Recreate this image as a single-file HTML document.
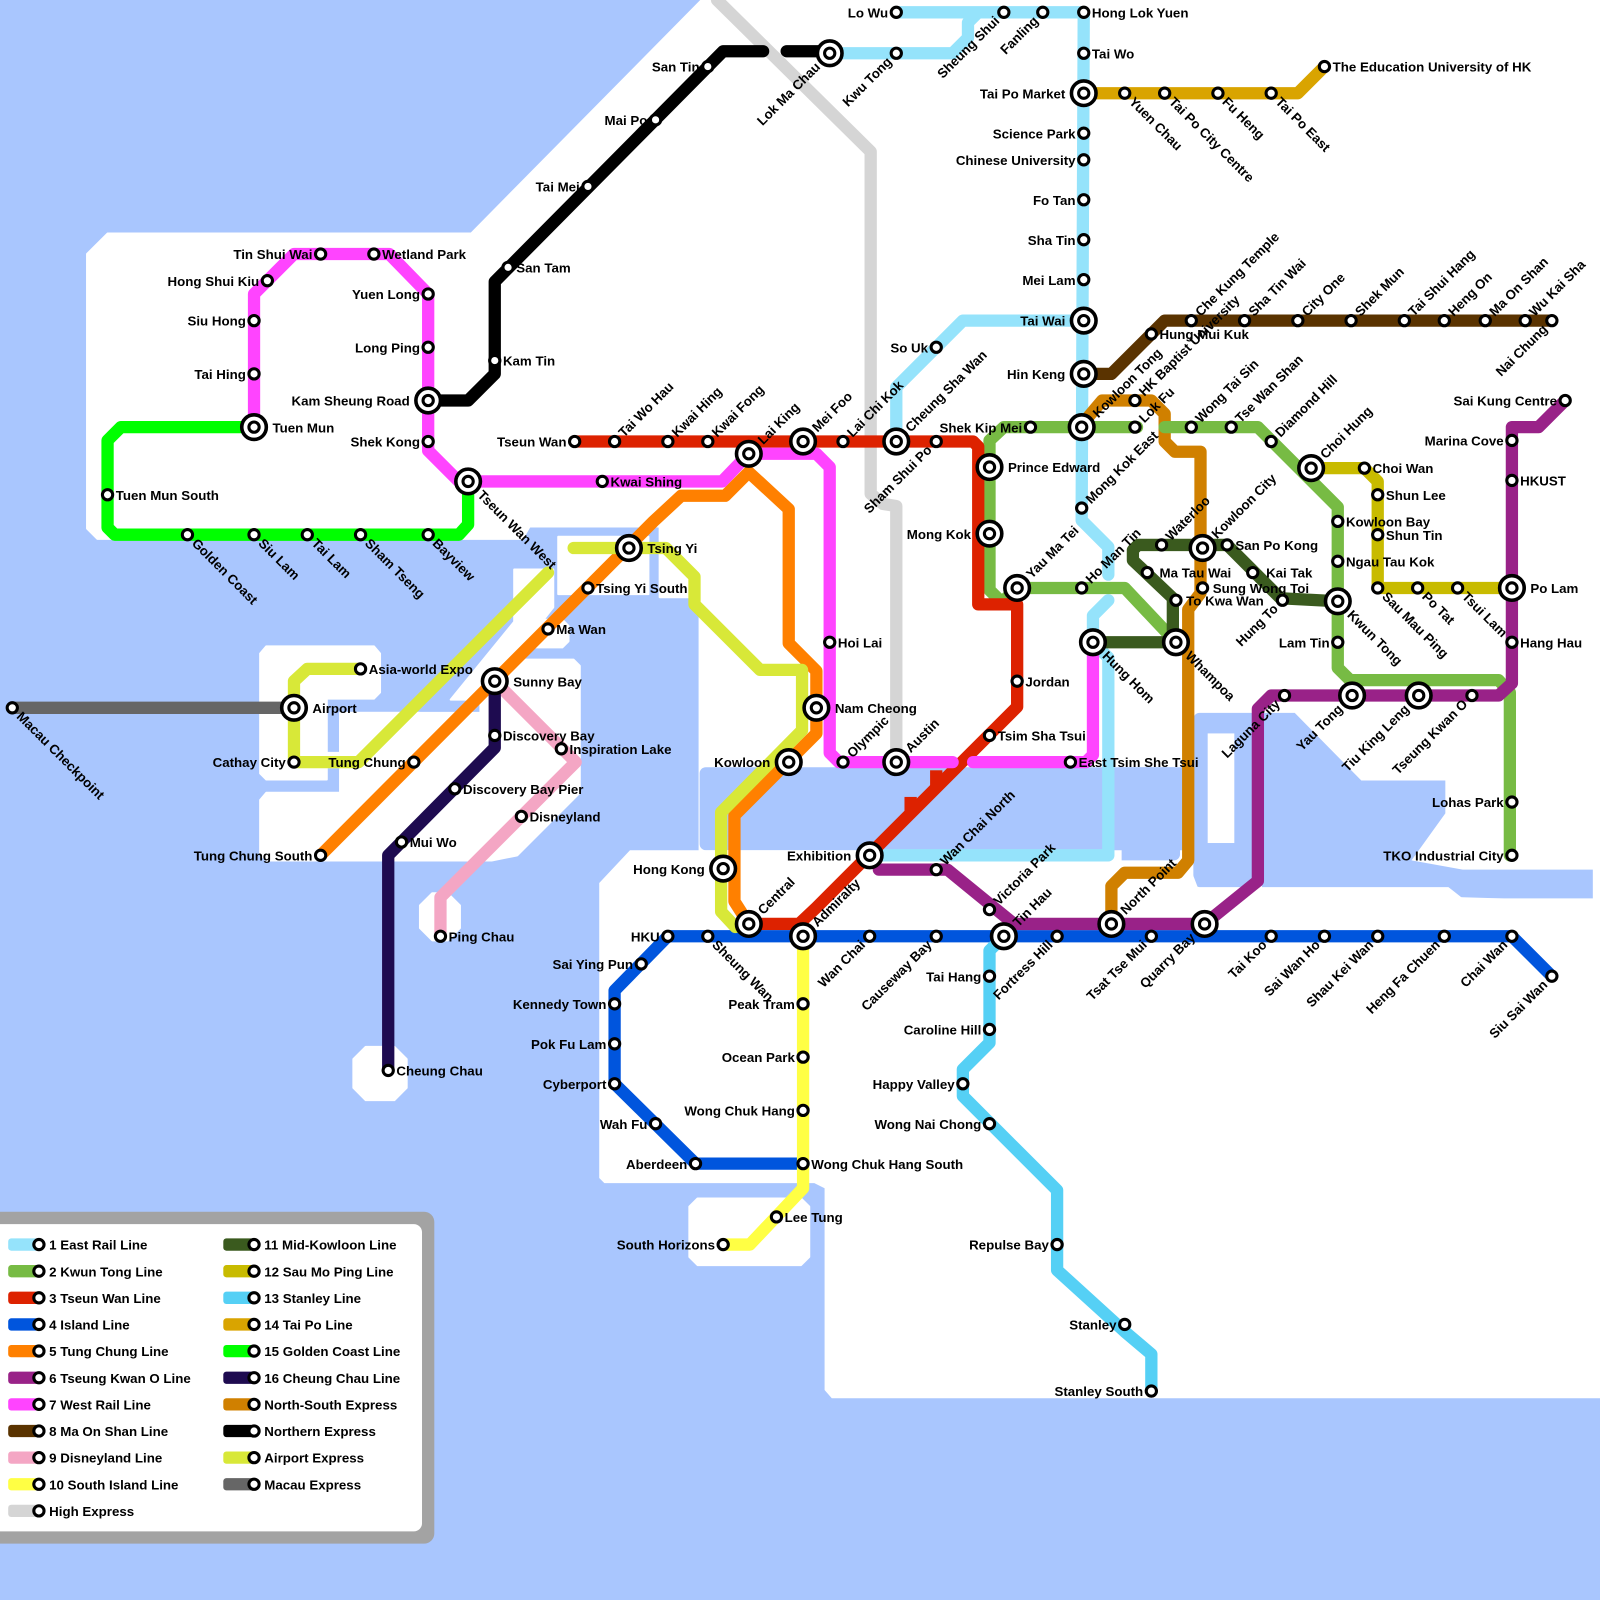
<!DOCTYPE html>
<html><head><meta charset="utf-8"><style>
html,body{margin:0;padding:0;background:#fff}
svg{display:block}
text{font-family:"Liberation Sans",Arial,sans-serif;font-weight:bold;font-size:13px;fill:#000}
.l{text-anchor:end}
.ln{fill:none;stroke-width:12;stroke-linejoin:round;stroke-linecap:round}
</style></head><body>
<svg width="1600" height="1600" viewBox="0 0 1562 1562" xmlns="http://www.w3.org/2000/svg">
<defs>
<g id="s"><circle r="5" fill="#fff" stroke="#000" stroke-width="3"/></g>
<g id="i"><circle r="12" fill="#fff" stroke="#000" stroke-width="3.5"/><circle r="5" fill="#fff" stroke="#000" stroke-width="3"/></g>
</defs>
<rect width="1562" height="1562" fill="#a9c6fe"/>
<!-- land -->
<g fill="#fff" stroke="#fff" stroke-width="2" stroke-linejoin="round">
<polygon points="85,248 105,228 460,228 685,0 1562,0 1562,880 683,880 683,583 644,583 644,514 517,514 510,526 95,526 85,516"/>
<polygon points="545,524 633,524 633,580 545,580"/>
<polygon points="503,556 540,556 540,593 503,593"/>
<polygon points="515,611 521,605 549,605 555,611 555,626 549,632 521,632 515,626"/>
<polygon points="254,638 260,631 365,631 371,638 371,676 365,682 319,682 319,749 410,749 410,696 332,696 332,735 319,735 319,761 260,761 254,755"/>
<polygon points="254,781 260,774 332,774 332,696 469,696 469,650 475,644 560,644 566,650 566,774 505,835 480,840 260,840 254,834"/>
<polygon points="440,683 502,607 502,556 540,556 540,593 469,683"/>
<polygon points="410,884 422,872 437,872 449,884 449,906 437,918 422,918 410,906"/>
<polygon points="345,1034 357,1022 385,1022 397,1034 397,1062 385,1074 357,1074 345,1062"/>
<polygon points="673,1178 681,1170 782,1170 790,1178 790,1227 782,1235 681,1235 673,1227"/>
</g>
<g fill="#a9c6fe">
<rect x="683" y="749" width="546" height="81" rx="6"/>
<rect x="1088" y="749" width="64" height="91" rx="6"/>
<rect x="1165" y="696" width="64" height="170" rx="6"/>
<polygon points="1232,696 1264,696 1329,762 1411,762 1411,794 1378,840 1428,849 1555,849 1555,877 1428,877 1414,866 1232,866"/>
</g>
<g fill="#fff">
<rect x="1179" y="716" width="26" height="107"/>
<polygon points="585,862 615,830 1095,830 1095,842 1160,842 1170,868 1232,870 1562,880 1562,1365 812,1365 805,1357 805,1160 795,1155 590,1155 585,1150"/>
</g>
<!-- lines -->
<path class="ln" stroke="#d5d5d5" d="M700,0 L850,148 L850,482 L862,492 L875,494 L875,744"/>
<path class="ln" stroke="#666666" d="M12,691 L287,691"/>
<path class="ln" stroke="#000" d="M418,391 L457,391 L483,365 L483,275 L706,50 L745,50 M768,50 L810,50"/>
<path class="ln" stroke="#95e3fb" d="M875,12 L1058,12 M810,52 L930,52 L945,37 L945,22 L955,12 M1058,12 L1056,496 L1056,508 L1082,534 L1082,561 M1082,586 L1067,601 L1067,627 L1082,642 L1082,835 L849,835 M1056,313 L940,313 L875,378 L875,431"/>
<path class="ln" stroke="#d08000" d="M1054,417 L1076,391 L1124,391 L1137,404 L1137,431 L1147,441 L1172,441 L1172,579 L1160,595 L1160,840 L1150,852 L1098,852 L1085,865 L1085,902"/>
<path class="ln" stroke="#77bb44" d="M1148,627 L1098,574 L993,574 L978,588 L966,576 L966,430 L980,417 L1110,417 M1137,417 L1228,417 L1306,495 L1306,652 L1318,664 L1463,664 L1474,676 L1474,835"/>
<path class="ln" stroke="#dd2200" d="M561,431 L950,431 L955,436 L955,590 L993,590 L993,690 L797,886 L780,902 L731,902"/>
<rect x="883" y="778" width="12" height="17" fill="#dd2200"/><rect x="908" y="752" width="12" height="18" fill="#dd2200"/>
<path class="ln" stroke="#0055dd" d="M784,1136 L679,1136 L600,1058 L600,967 L652,914 L1476,914 L1515,953"/>
<path class="ln" stroke="#ff8000" d="M313,835 L638,509 L665,484 L708,484 L731,461 L770,497 L770,628 L797,655 L797,716 L717,796 L717,880 L731,902"/>
<path class="ln" stroke="#992288" d="M1528,391 L1502,417 L1476,417 L1476,667 L1463,679 L1241,679 L1228,692 L1228,860 L1176,902 L990,902 L925,849 L858,849"/>
<path class="ln" stroke="#ff44ff" d="M248,417 L248,287 L287,248 L380,248 L418,287 L418,440 L448,470 L705,470 L731,443 L797,443 L810,456 L810,735 L819,744 L930,744 M950,744 L1060,744 L1067,737 L1067,627"/>
<path class="ln" stroke="#5a3300" d="M1058,365 L1085,365 L1137,313 L1515,313"/>
<path class="ln" stroke="#f4a6c4" d="M483,665 L562,744 L430,876 L430,914"/>
<path class="ln" stroke="#ffff44" d="M784,914 L784,1160 L732,1215 L706,1215"/>
<path class="ln" stroke="#3a5a1e" d="M1067,627 L1145,627 L1145,584 L1106,547 L1106,537 L1111,532 L1198,532 L1250,584 L1306,587"/>
<path class="ln" stroke="#c8bb00" d="M1280,457 L1332,457 L1345,470 L1345,574 L1476,574"/>
<path class="ln" stroke="#55d0f5" d="M980,914 L966,928 L966,1018 L940,1044 L940,1070 L1032,1162 L1032,1240 L1098,1300 L1124,1322 L1124,1358"/>
<path class="ln" stroke="#d9a400" d="M1058,91 L1267,91 L1293,65"/>
<path class="ln" stroke="#00ff00" d="M248,417 L118,417 L105,430 L105,515 L112,522 L448,522 L457,512 L457,470"/>
<path class="ln" stroke="#1e0b50" d="M483,665 L483,730 L379,835 L379,1045"/>
<path class="ln" stroke="#d8e838" d="M352,653 L300,653 L287,665 L287,744 L350,744 L535,559 M560,535 L650,535 L678,563 L678,590 L742,654 L783,654 L783,713 L704,793 L704,890 L718,905"/>
<!-- stations -->
<g>
<use href="#s" x="875" y="12"/><use href="#s" x="980" y="12"/><use href="#s" x="1018" y="12"/><use href="#s" x="1058" y="12"/>
<use href="#s" x="875" y="52"/><use href="#s" x="1058" y="52"/>
<use href="#s" x="1058" y="130"/><use href="#s" x="1058" y="156"/><use href="#s" x="1058" y="195"/><use href="#s" x="1058" y="234"/><use href="#s" x="1058" y="273"/>
<use href="#s" x="1098" y="91"/><use href="#s" x="1137" y="91"/><use href="#s" x="1189" y="91"/><use href="#s" x="1241" y="91"/><use href="#s" x="1293" y="65"/>
<use href="#s" x="914" y="339"/><use href="#s" x="1006" y="417"/><use href="#s" x="1108" y="417"/><use href="#s" x="1108" y="391"/><use href="#s" x="1163" y="417"/><use href="#s" x="1202" y="417"/><use href="#s" x="1241" y="431"/>
<use href="#s" x="1124" y="326"/><use href="#s" x="1163" y="313"/><use href="#s" x="1215" y="313"/><use href="#s" x="1267" y="313"/><use href="#s" x="1319" y="313"/><use href="#s" x="1371" y="313"/><use href="#s" x="1410" y="313"/><use href="#s" x="1450" y="313"/><use href="#s" x="1489" y="313"/><use href="#s" x="1515" y="313"/>
<use href="#s" x="1528" y="391"/><use href="#s" x="1476" y="430"/><use href="#s" x="1476" y="469"/><use href="#s" x="1476" y="627"/><use href="#s" x="1476" y="783"/><use href="#s" x="1476" y="835"/>
<use href="#s" x="1332" y="457"/><use href="#s" x="1345" y="483"/><use href="#s" x="1345" y="522"/><use href="#s" x="1345" y="574"/><use href="#s" x="1384" y="574"/><use href="#s" x="1423" y="574"/>
<use href="#s" x="1306" y="509"/><use href="#s" x="1306" y="548"/><use href="#s" x="1306" y="627"/><use href="#s" x="1437" y="679"/><use href="#s" x="1254" y="679"/>
<use href="#s" x="1134" y="532"/><use href="#s" x="1198" y="532"/><use href="#s" x="1120" y="559"/><use href="#s" x="1223" y="559"/><use href="#s" x="1174" y="574"/><use href="#s" x="1148" y="586"/><use href="#s" x="1252" y="586"/>
<use href="#s" x="1056" y="496"/><use href="#s" x="1056" y="574"/><use href="#s" x="993" y="665"/><use href="#s" x="966" y="718"/><use href="#s" x="1045" y="744"/>
<use href="#s" x="561" y="431"/><use href="#s" x="600" y="431"/><use href="#s" x="652" y="431"/><use href="#s" x="691" y="431"/><use href="#s" x="823" y="431"/><use href="#s" x="914" y="431"/>
<use href="#s" x="810" y="627"/><use href="#s" x="823" y="744"/><use href="#s" x="588" y="470"/>
<use href="#s" x="313" y="248"/><use href="#s" x="365" y="248"/><use href="#s" x="261" y="274"/><use href="#s" x="248" y="313"/><use href="#s" x="248" y="365"/><use href="#s" x="418" y="287"/><use href="#s" x="418" y="339"/><use href="#s" x="418" y="431"/>
<use href="#s" x="691" y="65"/><use href="#s" x="640" y="117"/><use href="#s" x="574" y="182"/><use href="#s" x="496" y="261"/><use href="#s" x="483" y="352"/>
<use href="#s" x="105" y="483"/><use href="#s" x="183" y="522"/><use href="#s" x="248" y="522"/><use href="#s" x="300" y="522"/><use href="#s" x="352" y="522"/><use href="#s" x="418" y="522"/>
<use href="#s" x="574" y="574"/><use href="#s" x="535" y="614"/><use href="#s" x="352" y="653"/><use href="#s" x="287" y="744"/><use href="#s" x="404" y="744"/><use href="#s" x="313" y="835"/><use href="#s" x="12" y="691"/>
<use href="#s" x="483" y="718"/><use href="#s" x="548" y="731"/><use href="#s" x="444" y="770"/><use href="#s" x="509" y="797"/><use href="#s" x="392" y="822"/><use href="#s" x="430" y="914"/><use href="#s" x="379" y="1045"/>
<use href="#s" x="914" y="849"/><use href="#s" x="966" y="888"/>
<use href="#s" x="652" y="914"/><use href="#s" x="691" y="914"/><use href="#s" x="626" y="941"/><use href="#s" x="600" y="980"/><use href="#s" x="600" y="1019"/><use href="#s" x="600" y="1058"/><use href="#s" x="640" y="1097"/><use href="#s" x="679" y="1136"/><use href="#s" x="784" y="1136"/>
<use href="#s" x="784" y="980"/><use href="#s" x="784" y="1032"/><use href="#s" x="784" y="1084"/><use href="#s" x="758" y="1188"/><use href="#s" x="706" y="1215"/>
<use href="#s" x="849" y="914"/><use href="#s" x="914" y="914"/><use href="#s" x="1032" y="914"/><use href="#s" x="1124" y="914"/><use href="#s" x="1241" y="914"/><use href="#s" x="1293" y="914"/><use href="#s" x="1345" y="914"/><use href="#s" x="1410" y="914"/><use href="#s" x="1476" y="914"/><use href="#s" x="1515" y="953"/>
<use href="#s" x="966" y="953"/><use href="#s" x="966" y="1005"/><use href="#s" x="940" y="1058"/><use href="#s" x="966" y="1097"/><use href="#s" x="1032" y="1215"/><use href="#s" x="1098" y="1293"/><use href="#s" x="1124" y="1358"/>
<use href="#i" x="810" y="52"/><use href="#i" x="1058" y="91"/><use href="#i" x="1058" y="313"/><use href="#i" x="1058" y="365"/><use href="#i" x="1056" y="417"/><use href="#i" x="966" y="456"/><use href="#i" x="966" y="521"/><use href="#i" x="993" y="574"/><use href="#i" x="1067" y="627"/><use href="#i" x="1148" y="627"/><use href="#i" x="1174" y="535"/><use href="#i" x="1280" y="457"/><use href="#i" x="1306" y="587"/><use href="#i" x="1476" y="574"/><use href="#i" x="1320" y="679"/><use href="#i" x="1385" y="679"/><use href="#i" x="418" y="391"/><use href="#i" x="248" y="417"/><use href="#i" x="457" y="470"/><use href="#i" x="731" y="443"/><use href="#i" x="784" y="431"/><use href="#i" x="875" y="431"/><use href="#i" x="614" y="535"/><use href="#i" x="483" y="665"/><use href="#i" x="287" y="691"/><use href="#i" x="797" y="691"/><use href="#i" x="770" y="744"/><use href="#i" x="875" y="744"/><use href="#i" x="706" y="848"/><use href="#i" x="731" y="902"/><use href="#i" x="784" y="914"/><use href="#i" x="849" y="835"/><use href="#i" x="980" y="914"/><use href="#i" x="1085" y="902"/><use href="#i" x="1176" y="902"/>
</g>
<!-- labels horizontal -->
<g>
<text class="l" x="867" y="17">Lo Wu</text>
<text x="1066" y="17">Hong Lok Yuen</text>
<text x="1066" y="57">Tai Wo</text>
<text class="l" x="1040" y="96">Tai Po Market</text>
<text class="l" x="1050" y="135">Science Park</text>
<text class="l" x="1050" y="161">Chinese University</text>
<text class="l" x="1050" y="200">Fo Tan</text>
<text class="l" x="1050" y="239">Sha Tin</text>
<text class="l" x="1050" y="278">Mei Lam</text>
<text class="l" x="1040" y="318">Tai Wai</text>
<text class="l" x="1040" y="370">Hin Keng</text>
<text x="1301" y="70">The Education University of HK</text>
<text class="l" x="906" y="344">So Uk</text>
<text class="l" x="998" y="422">Shek Kip Mei</text>
<text x="1132" y="331">Hung Mui Kuk</text>
<text class="l" x="1520" y="396">Sai Kung Centre</text>
<text class="l" x="1468" y="435">Marina Cove</text>
<text x="1484" y="474">HKUST</text>
<text x="1494" y="579">Po Lam</text>
<text x="1484" y="632">Hang Hau</text>
<text class="l" x="1468" y="788">Lohas Park</text>
<text class="l" x="1468" y="840">TKO Industrial City</text>
<text x="1340" y="462">Choi Wan</text>
<text x="1353" y="488">Shun Lee</text>
<text x="1353" y="527">Shun Tin</text>
<text x="1314" y="514">Kowloon Bay</text>
<text x="1314" y="553">Ngau Tau Kok</text>
<text class="l" x="1298" y="632">Lam Tin</text>
<text x="1206" y="537">San Po Kong</text>
<text x="1132" y="564">Ma Tau Wai</text>
<text x="1236" y="564">Kai Tak</text>
<text x="1184" y="579">Sung Wong Toi</text>
<text x="1158" y="591">To Kwa Wan</text>
<text x="984" y="461">Prince Edward</text>
<text class="l" x="948" y="526">Mong Kok</text>
<text x="1001" y="670">Jordan</text>
<text x="974" y="723">Tsim Sha Tsui</text>
<text x="1053" y="749">East Tsim She Tsui</text>
<text class="l" x="553" y="436">Tseun Wan</text>
<text x="818" y="632">Hoi Lai</text>
<text x="815" y="696">Nam Cheong</text>
<text class="l" x="752" y="749">Kowloon</text>
<text x="596" y="475">Kwai Shing</text>
<text class="l" x="305" y="253">Tin Shui Wai</text>
<text x="373" y="253">Wetland Park</text>
<text class="l" x="253" y="279">Hong Shui Kiu</text>
<text class="l" x="240" y="318">Siu Hong</text>
<text class="l" x="240" y="370">Tai Hing</text>
<text x="266" y="422">Tuen Mun</text>
<text class="l" x="410" y="292">Yuen Long</text>
<text class="l" x="410" y="344">Long Ping</text>
<text class="l" x="400" y="396">Kam Sheung Road</text>
<text class="l" x="410" y="436">Shek Kong</text>
<text class="l" x="683" y="70">San Tin</text>
<text class="l" x="632" y="122">Mai Po</text>
<text class="l" x="566" y="187">Tai Mei</text>
<text x="504" y="266">San Tam</text>
<text x="491" y="357">Kam Tin</text>
<text x="113" y="488">Tuen Mun South</text>
<text x="632" y="540">Tsing Yi</text>
<text x="582" y="579">Tsing Yi South</text>
<text x="543" y="619">Ma Wan</text>
<text x="501" y="670">Sunny Bay</text>
<text x="360" y="658">Asia-world Expo</text>
<text x="305" y="696">Airport</text>
<text class="l" x="279" y="749">Cathay City</text>
<text class="l" x="396" y="749">Tung Chung</text>
<text class="l" x="305" y="840">Tung Chung South</text>
<text x="491" y="723">Discovery Bay</text>
<text x="556" y="736">Inspiration Lake</text>
<text x="452" y="775">Discovery Bay Pier</text>
<text x="517" y="802">Disneyland</text>
<text x="400" y="827">Mui Wo</text>
<text x="438" y="919">Ping Chau</text>
<text x="387" y="1050">Cheung Chau</text>
<text class="l" x="688" y="853">Hong Kong</text>
<text class="l" x="831" y="840">Exhibition</text>
<text class="l" x="644" y="919">HKU</text>
<text class="l" x="618" y="946">Sai Ying Pun</text>
<text class="l" x="592" y="985">Kennedy Town</text>
<text class="l" x="592" y="1024">Pok Fu Lam</text>
<text class="l" x="592" y="1063">Cyberport</text>
<text class="l" x="632" y="1102">Wah Fu</text>
<text class="l" x="671" y="1141">Aberdeen</text>
<text x="792" y="1141">Wong Chuk Hang South</text>
<text class="l" x="776" y="985">Peak Tram</text>
<text class="l" x="776" y="1037">Ocean Park</text>
<text class="l" x="776" y="1089">Wong Chuk Hang</text>
<text x="766" y="1193">Lee Tung</text>
<text class="l" x="698" y="1220">South Horizons</text>
<text class="l" x="958" y="958">Tai Hang</text>
<text class="l" x="958" y="1010">Caroline Hill</text>
<text class="l" x="932" y="1063">Happy Valley</text>
<text class="l" x="958" y="1102">Wong Nai Chong</text>
<text class="l" x="1024" y="1220">Repulse Bay</text>
<text class="l" x="1090" y="1298">Stanley</text>
<text class="l" x="1116" y="1363">Stanley South</text>
</g>
<!-- labels up-right (start) -->
<g>
<text transform="translate(1058,417) rotate(-45)" x="16" y="4">Kowloon Tong</text>
<text transform="translate(1108,417) rotate(-45)" x="9" y="4">Lok Fu</text>
<text transform="translate(1108,391) rotate(-45)" x="9" y="4">HK Baptist University</text>
<text transform="translate(1163,417) rotate(-45)" x="9" y="4">Wong Tai Sin</text>
<text transform="translate(1202,417) rotate(-45)" x="9" y="4">Tse Wan Shan</text>
<text transform="translate(1241,431) rotate(-45)" x="9" y="4">Diamond Hill</text>
<text transform="translate(1280,457) rotate(-45)" x="16" y="4">Choi Hung</text>
<text transform="translate(1163,313) rotate(-45)" x="9" y="4">Che Kung Temple</text>
<text transform="translate(1215,313) rotate(-45)" x="9" y="4">Sha Tin Wai</text>
<text transform="translate(1267,313) rotate(-45)" x="9" y="4">City One</text>
<text transform="translate(1319,313) rotate(-45)" x="9" y="4">Shek Mun</text>
<text transform="translate(1371,313) rotate(-45)" x="9" y="4">Tai Shui Hang</text>
<text transform="translate(1410,313) rotate(-45)" x="9" y="4">Heng On</text>
<text transform="translate(1450,313) rotate(-45)" x="9" y="4">Ma On Shan</text>
<text transform="translate(1489,313) rotate(-45)" x="9" y="4">Wu Kai Sha</text>
<text transform="translate(1134,532) rotate(-45)" x="9" y="4">Waterloo</text>
<text transform="translate(1174,535) rotate(-45)" x="16" y="4">Kowloon City</text>
<text transform="translate(1056,496) rotate(-45)" x="9" y="4">Mong Kok East</text>
<text transform="translate(1056,574) rotate(-45)" x="9" y="4">Ho Man Tin</text>
<text transform="translate(993,574) rotate(-45)" x="16" y="4">Yau Ma Tei</text>
<text transform="translate(600,431) rotate(-45)" x="9" y="4">Tai Wo Hau</text>
<text transform="translate(652,431) rotate(-45)" x="9" y="4">Kwai Hing</text>
<text transform="translate(691,431) rotate(-45)" x="9" y="4">Kwai Fong</text>
<text transform="translate(731,443) rotate(-45)" x="16" y="4">Lai King</text>
<text transform="translate(784,431) rotate(-45)" x="16" y="4">Mei Foo</text>
<text transform="translate(823,431) rotate(-45)" x="9" y="4">Lai Chi Kok</text>
<text transform="translate(875,431) rotate(-45)" x="16" y="4">Cheung Sha Wan</text>
<text transform="translate(823,744) rotate(-45)" x="9" y="4">Olympic</text>
<text transform="translate(875,744) rotate(-45)" x="16" y="4">Austin</text>
<text transform="translate(731,902) rotate(-45)" x="16" y="4">Central</text>
<text transform="translate(784,914) rotate(-45)" x="16" y="4">Admiralty</text>
<text transform="translate(914,849) rotate(-45)" x="9" y="4">Wan Chai North</text>
<text transform="translate(966,888) rotate(-45)" x="9" y="4">Victoria Park</text>
<text transform="translate(980,914) rotate(-45)" x="16" y="4">Tin Hau</text>
<text transform="translate(1085,902) rotate(-45)" x="16" y="4">North Point</text>
</g>
<!-- labels ending at station (up-right direction) -->
<g class="l">
<text transform="translate(980,12) rotate(-45)" x="-9" y="4">Sheung Shui</text>
<text transform="translate(1018,12) rotate(-45)" x="-9" y="4">Fanling</text>
<text transform="translate(875,52) rotate(-45)" x="-9" y="4">Kwu Tong</text>
<text transform="translate(810,52) rotate(-45)" x="-16" y="4">Lok Ma Chau</text>
<text transform="translate(914,431) rotate(-45)" x="-9" y="4">Sham Shui Po</text>
<text transform="translate(1515,313) rotate(-45)" x="-9" y="4">Nai Chung</text>
<text transform="translate(1254,679) rotate(-45)" x="-9" y="4">Laguna City</text>
<text transform="translate(1320,679) rotate(-45)" x="-16" y="4">Yau Tong</text>
<text transform="translate(1385,679) rotate(-45)" x="-16" y="4">Tiu King Leng</text>
<text transform="translate(1437,679) rotate(-45)" x="-9" y="4">Tseung Kwan O</text>
<text transform="translate(1252,586) rotate(-45)" x="-9" y="4">Hung To</text>
<text transform="translate(1176,902) rotate(-45)" x="-16" y="4">Quarry Bay</text>
<text transform="translate(849,914) rotate(-45)" x="-9" y="4">Wan Chai</text>
<text transform="translate(914,914) rotate(-45)" x="-9" y="4">Causeway Bay</text>
<text transform="translate(1032,914) rotate(-45)" x="-9" y="4">Fortress Hill</text>
<text transform="translate(1124,914) rotate(-45)" x="-9" y="4">Tsat Tse Mui</text>
<text transform="translate(1241,914) rotate(-45)" x="-9" y="4">Tai Koo</text>
<text transform="translate(1293,914) rotate(-45)" x="-9" y="4">Sai Wan Ho</text>
<text transform="translate(1345,914) rotate(-45)" x="-9" y="4">Shau Kei Wan</text>
<text transform="translate(1410,914) rotate(-45)" x="-9" y="4">Heng Fa Chuen</text>
<text transform="translate(1476,914) rotate(-45)" x="-9" y="4">Chai Wan</text>
<text transform="translate(1515,953) rotate(-45)" x="-9" y="4">Siu Sai Wan</text>
</g>
<!-- labels down-right -->
<g>
<text transform="translate(183,522) rotate(45)" x="9" y="4">Golden Coast</text>
<text transform="translate(248,522) rotate(45)" x="9" y="4">Siu Lam</text>
<text transform="translate(300,522) rotate(45)" x="9" y="4">Tai Lam</text>
<text transform="translate(352,522) rotate(45)" x="9" y="4">Sham Tseng</text>
<text transform="translate(418,522) rotate(45)" x="9" y="4">Bayview</text>
<text transform="translate(457,470) rotate(45)" x="16" y="4">Tseun Wan West</text>
<text transform="translate(12,691) rotate(45)" x="9" y="4">Macau Checkpoint</text>
<text transform="translate(1098,91) rotate(45)" x="9" y="4">Yuen Chau</text>
<text transform="translate(1137,91) rotate(45)" x="9" y="4">Tai Po City Centre</text>
<text transform="translate(1189,91) rotate(45)" x="9" y="4">Fu Heng</text>
<text transform="translate(1241,91) rotate(45)" x="9" y="4">Tai Po East</text>
<text transform="translate(691,914) rotate(45)" x="9" y="4">Sheung Wan</text>
<text transform="translate(1067,627) rotate(45)" x="16" y="4">Hung Hom</text>
<text transform="translate(1148,627) rotate(45)" x="16" y="4">Whampoa</text>
<text transform="translate(1306,587) rotate(45)" x="16" y="4">Kwun Tong</text>
<text transform="translate(1345,574) rotate(45)" x="9" y="4">Sau Mau Ping</text>
<text transform="translate(1384,574) rotate(45)" x="9" y="4">Po Tat</text>
<text transform="translate(1423,574) rotate(45)" x="9" y="4">Tsui Lam</text>
</g>
<!-- legend -->
<rect x="-12" y="1183" width="436" height="324" rx="10" fill="#a3a3a3"/>
<rect x="-12" y="1195" width="424" height="300" rx="8" fill="#fff"/>
<g>
<rect x="8" y="1209" width="30" height="12" rx="3" fill="#95e3fb"/>
<rect x="8" y="1235" width="30" height="12" rx="3" fill="#77bb44"/>
<rect x="8" y="1261" width="30" height="12" rx="3" fill="#dd2200"/>
<rect x="8" y="1287" width="30" height="12" rx="3" fill="#0055dd"/>
<rect x="8" y="1313" width="30" height="12" rx="3" fill="#ff8000"/>
<rect x="8" y="1339" width="30" height="12" rx="3" fill="#992288"/>
<rect x="8" y="1365" width="30" height="12" rx="3" fill="#ff44ff"/>
<rect x="8" y="1391" width="30" height="12" rx="3" fill="#5a3300"/>
<rect x="8" y="1417" width="30" height="12" rx="3" fill="#f4a6c4"/>
<rect x="8" y="1443" width="30" height="12" rx="3" fill="#ffff44"/>
<rect x="8" y="1469" width="30" height="12" rx="3" fill="#d5d5d5"/>
<rect x="218" y="1209" width="30" height="12" rx="3" fill="#3a5a1e"/>
<rect x="218" y="1235" width="30" height="12" rx="3" fill="#c8bb00"/>
<rect x="218" y="1261" width="30" height="12" rx="3" fill="#55d0f5"/>
<rect x="218" y="1287" width="30" height="12" rx="3" fill="#d9a400"/>
<rect x="218" y="1313" width="30" height="12" rx="3" fill="#00ff00"/>
<rect x="218" y="1339" width="30" height="12" rx="3" fill="#1e0b50"/>
<rect x="218" y="1365" width="30" height="12" rx="3" fill="#d08000"/>
<rect x="218" y="1391" width="30" height="12" rx="3" fill="#000"/>
<rect x="218" y="1417" width="30" height="12" rx="3" fill="#d8e838"/>
<rect x="218" y="1443" width="30" height="12" rx="3" fill="#666666"/>
<use href="#s" x="38" y="1215"/><use href="#s" x="38" y="1241"/><use href="#s" x="38" y="1267"/><use href="#s" x="38" y="1293"/><use href="#s" x="38" y="1319"/><use href="#s" x="38" y="1345"/><use href="#s" x="38" y="1371"/><use href="#s" x="38" y="1397"/><use href="#s" x="38" y="1423"/><use href="#s" x="38" y="1449"/><use href="#s" x="38" y="1475"/>
<use href="#s" x="248" y="1215"/><use href="#s" x="248" y="1241"/><use href="#s" x="248" y="1267"/><use href="#s" x="248" y="1293"/><use href="#s" x="248" y="1319"/><use href="#s" x="248" y="1345"/><use href="#s" x="248" y="1371"/><use href="#s" x="248" y="1397"/><use href="#s" x="248" y="1423"/><use href="#s" x="248" y="1449"/>
<text x="48" y="1220">1 East Rail Line</text>
<text x="48" y="1246">2 Kwun Tong Line</text>
<text x="48" y="1272">3 Tseun Wan Line</text>
<text x="48" y="1298">4 Island Line</text>
<text x="48" y="1324">5 Tung Chung Line</text>
<text x="48" y="1350">6 Tseung Kwan O Line</text>
<text x="48" y="1376">7 West Rail Line</text>
<text x="48" y="1402">8 Ma On Shan Line</text>
<text x="48" y="1428">9 Disneyland Line</text>
<text x="48" y="1454">10 South Island Line</text>
<text x="48" y="1480">High Express</text>
<text x="258" y="1220">11 Mid-Kowloon Line</text>
<text x="258" y="1246">12 Sau Mo Ping Line</text>
<text x="258" y="1272">13 Stanley Line</text>
<text x="258" y="1298">14 Tai Po Line</text>
<text x="258" y="1324">15 Golden Coast Line</text>
<text x="258" y="1350">16 Cheung Chau Line</text>
<text x="258" y="1376">North-South Express</text>
<text x="258" y="1402">Northern Express</text>
<text x="258" y="1428">Airport Express</text>
<text x="258" y="1454">Macau Express</text>
</g>
</svg>
</body></html>
